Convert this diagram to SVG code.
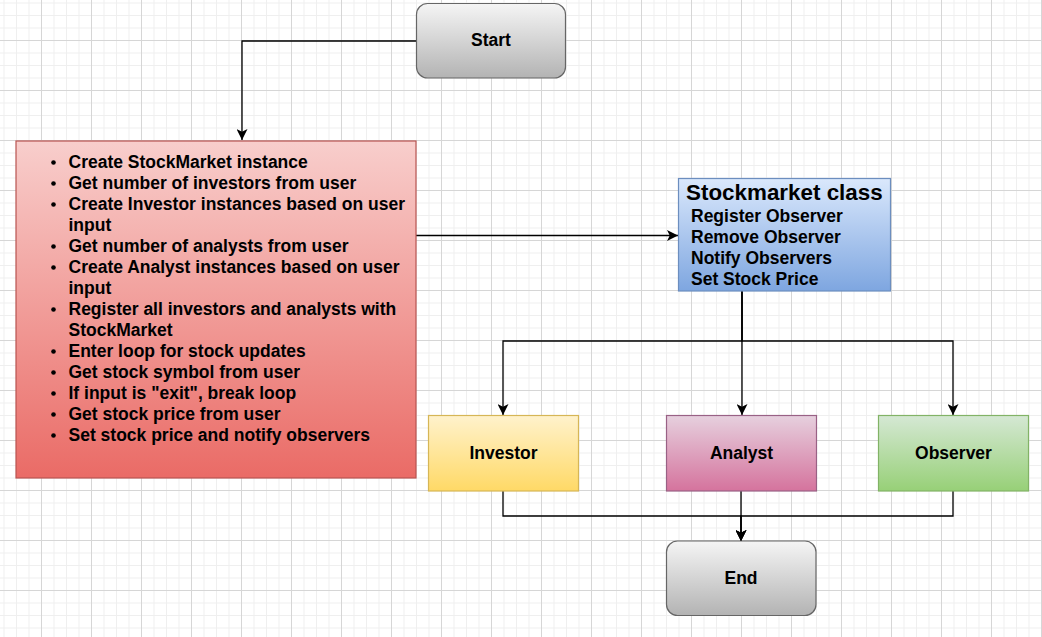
<svg xmlns="http://www.w3.org/2000/svg" width="1042" height="637" viewBox="0 0 1042 637">
  <style>
    .lbl { font-family: "Liberation Sans", Arial, sans-serif; font-weight: bold; font-size: 17.5px; fill: #000; }
    .ctr { text-anchor: middle; }
    .title { font-family: "Liberation Sans", Arial, sans-serif; font-weight: bold; font-size: 22.4px; fill: #000; }
    .conn { fill: none; stroke: #000; stroke-width: 1.3; }
    .node { stroke-width: 1.2; }
  </style>
  <defs>
    <pattern id="grid" patternUnits="userSpaceOnUse" x="41" y="40" width="50" height="50">
      <rect width="50" height="50" fill="#ffffff"/>
      <g fill="#efefef">
        <rect x="12.5" y="0" width="1" height="50"/>
        <rect x="25" y="0" width="1" height="50"/>
        <rect x="37.5" y="0" width="1" height="50"/>
        <rect x="0" y="12.5" width="50" height="1"/>
        <rect x="0" y="25" width="50" height="1"/>
        <rect x="0" y="37.5" width="50" height="1"/>
      </g>
      <g fill="#d6d6d6">
        <rect x="0" y="0" width="1" height="50"/>
        <rect x="0" y="0" width="50" height="1"/>
      </g>
    </pattern>
    <linearGradient id="gGray" x1="0" y1="0" x2="0" y2="1">
      <stop offset="0" stop-color="#f5f5f5"/>
      <stop offset="1" stop-color="#b3b3b3"/>
    </linearGradient>
    <linearGradient id="gRed" x1="0" y1="0" x2="0" y2="1">
      <stop offset="0" stop-color="#f8cecc"/>
      <stop offset="1" stop-color="#ea6b66"/>
    </linearGradient>
    <linearGradient id="gBlue" x1="0" y1="0" x2="0" y2="1">
      <stop offset="0" stop-color="#dae8fc"/>
      <stop offset="1" stop-color="#7ea6e0"/>
    </linearGradient>
    <linearGradient id="gYellow" x1="0" y1="0" x2="0" y2="1">
      <stop offset="0" stop-color="#fff2cc"/>
      <stop offset="1" stop-color="#ffd966"/>
    </linearGradient>
    <linearGradient id="gPink" x1="0" y1="0" x2="0" y2="1">
      <stop offset="0" stop-color="#e6d0de"/>
      <stop offset="1" stop-color="#d5739d"/>
    </linearGradient>
    <linearGradient id="gGreen" x1="0" y1="0" x2="0" y2="1">
      <stop offset="0" stop-color="#d5e8d4"/>
      <stop offset="1" stop-color="#97d077"/>
    </linearGradient>
    <marker id="arrow" markerUnits="userSpaceOnUse" viewBox="0 0 10 10" refX="10" refY="5" markerWidth="11" markerHeight="11" orient="auto">
      <path d="M0,0 L10,5 L0,10 L2.5,5 Z" fill="#000"/>
    </marker>
  </defs>

  <rect x="0" y="0" width="1042" height="637" fill="url(#grid)"/>

  <g id="connectors">
    <path class="conn" d="M416 41 H242 V140" marker-end="url(#arrow)"/>
    <path class="conn" d="M413 235.5 H678" marker-end="url(#arrow)"/>
    <path class="conn" d="M742 291 V341 H503 V415" marker-end="url(#arrow)"/>
    <path class="conn" d="M742 291 V415" marker-end="url(#arrow)"/>
    <path class="conn" d="M742 291 V341 H953 V415" marker-end="url(#arrow)"/>
    <path class="conn" d="M503 491 V516 H741 V541" marker-end="url(#arrow)"/>
    <path class="conn" d="M741 491 V541" marker-end="url(#arrow)"/>
    <path class="conn" d="M953 491 V516 H741 V541" marker-end="url(#arrow)"/>
  </g>

  <g id="start">
    <rect class="node" x="416.5" y="3.5" width="149" height="74.5" rx="11" ry="11" fill="url(#gGray)" stroke="#666666"/>
    <text class="lbl ctr" x="491" y="46">Start</text>
  </g>

  <g id="main-steps">
    <rect class="node" x="16" y="141" width="400" height="337" fill="url(#gRed)" stroke="#b85450"/>
    <g fill="#000">
      <circle cx="53.5" cy="162.5" r="2.3"/>
      <circle cx="53.5" cy="183.5" r="2.3"/>
      <circle cx="53.5" cy="204.5" r="2.3"/>
      <circle cx="53.5" cy="246.5" r="2.3"/>
      <circle cx="53.5" cy="267.5" r="2.3"/>
      <circle cx="53.5" cy="309.5" r="2.3"/>
      <circle cx="53.5" cy="351.5" r="2.3"/>
      <circle cx="53.5" cy="372.5" r="2.3"/>
      <circle cx="53.5" cy="393.5" r="2.3"/>
      <circle cx="53.5" cy="414.5" r="2.3"/>
      <circle cx="53.5" cy="435.5" r="2.3"/>
    </g>
    <text class="lbl" x="68.5" y="168">Create StockMarket instance</text>
    <text class="lbl" x="68.5" y="189">Get number of investors from user</text>
    <text class="lbl" x="68.5" y="210">Create Investor instances based on user</text>
    <text class="lbl" x="68.5" y="231">input</text>
    <text class="lbl" x="68.5" y="252">Get number of analysts from user</text>
    <text class="lbl" x="68.5" y="273">Create Analyst instances based on user</text>
    <text class="lbl" x="68.5" y="294">input</text>
    <text class="lbl" x="68.5" y="315">Register all investors and analysts with</text>
    <text class="lbl" x="68.5" y="336">StockMarket</text>
    <text class="lbl" x="68.5" y="357">Enter loop for stock updates</text>
    <text class="lbl" x="68.5" y="378">Get stock symbol from user</text>
    <text class="lbl" x="68.5" y="399">If input is "exit", break loop</text>
    <text class="lbl" x="68.5" y="420">Get stock price from user</text>
    <text class="lbl" x="68.5" y="441">Set stock price and notify observers</text>
  </g>

  <g id="stockmarket-class">
    <rect class="node" x="678.5" y="178.5" width="212" height="112.5" fill="url(#gBlue)" stroke="#6c8ebf"/>
    <text class="title" x="686" y="200">Stockmarket class</text>
    <text class="lbl" x="691" y="222">Register Observer</text>
    <text class="lbl" x="691" y="243">Remove Observer</text>
    <text class="lbl" x="691" y="264">Notify Observers</text>
    <text class="lbl" x="691" y="285">Set Stock Price</text>
  </g>

  <g id="investor">
    <rect class="node" x="428.5" y="415.5" width="150" height="75.5" fill="url(#gYellow)" stroke="#d6b656"/>
    <text class="lbl ctr" x="503.5" y="459">Investor</text>
  </g>

  <g id="analyst">
    <rect class="node" x="666.5" y="415.5" width="150" height="75.5" fill="url(#gPink)" stroke="#996185"/>
    <text class="lbl ctr" x="741.5" y="459">Analyst</text>
  </g>

  <g id="observer">
    <rect class="node" x="878.5" y="415.5" width="150" height="75.5" fill="url(#gGreen)" stroke="#82b366"/>
    <text class="lbl ctr" x="953.5" y="459">Observer</text>
  </g>

  <g id="end">
    <rect class="node" x="666.5" y="541" width="149.5" height="74.5" rx="11" ry="11" fill="url(#gGray)" stroke="#666666"/>
    <text class="lbl ctr" x="741" y="584">End</text>
  </g>
</svg>
